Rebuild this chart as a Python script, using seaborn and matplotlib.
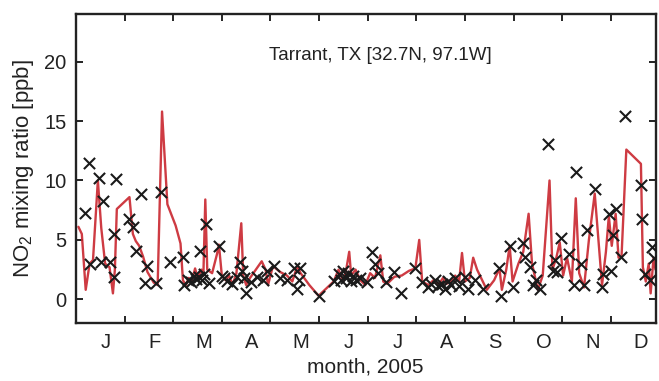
import numpy as np
import pandas as pd
import matplotlib
matplotlib.use("Agg")
import matplotlib.pyplot as plt
import seaborn as sns

# observed NO2 (black crosses): month position (0 = 1 Jan, 1 unit = 1 month), ppb
obs_month = [0.18, 0.26, 0.28, 0.47, 0.52, 0.55, 0.69, 0.78, 0.79, 0.83,
             1.10, 1.17, 1.23, 1.34, 1.41, 1.47, 1.65, 1.75, 1.93,
             2.20, 2.22, 2.30, 2.36, 2.42, 2.46, 2.53, 2.55, 2.60, 2.63, 2.68, 2.73, 2.94,
             3.00, 3.05, 3.10, 3.21, 3.31, 3.38, 3.42, 3.46, 3.50, 3.59, 3.72, 3.85, 3.93,
             4.07, 4.20, 4.34, 4.48, 4.55, 4.58, 4.61, 4.99,
             5.30, 5.40, 5.45, 5.50, 5.55, 5.60, 5.65, 5.70, 5.75, 5.85, 5.99,
             6.08, 6.16, 6.22, 6.37, 6.54, 6.69, 6.98,
             7.12, 7.25, 7.30, 7.38, 7.45, 7.52, 7.58, 7.65, 7.72, 7.80, 7.88,
             8.00, 8.06, 8.20, 8.37, 8.71, 8.75, 8.92, 8.99,
             9.19, 9.23, 9.33, 9.40, 9.47, 9.54, 9.71, 9.81, 9.86, 9.90, 9.97,
             10.14, 10.24, 10.28, 10.38, 10.45, 10.51, 10.67, 10.82, 10.84, 10.96,
             11.01, 11.05, 11.10, 11.20, 11.30, 11.62, 11.64, 11.71, 11.81, 11.85, 11.88]
obs_no2 = [7.3, 11.45, 3.0, 10.25, 3.1, 8.3, 3.1, 5.5, 1.9, 10.1,
           6.8, 6.1, 4.1, 8.9, 1.4, 2.8, 1.4, 9.0, 3.1,
           3.55, 1.2, 1.6, 1.45, 2.0, 1.75, 1.9, 4.1, 1.6, 2.15, 6.3, 1.4, 4.5,
           2.0, 1.8, 1.5, 1.3, 1.9, 3.1, 2.4, 1.8, 0.5, 1.45, 1.9, 1.6, 2.4,
           2.8, 1.8, 1.6, 2.6, 0.9, 1.6, 2.6, 0.3,
           1.5, 2.1, 1.6, 2.4, 1.8, 2.2, 1.5, 2.0, 1.6, 1.8, 1.45,
           4.0, 3.0, 2.2, 1.45, 2.3, 0.5, 2.6,
           1.45, 1.0, 1.3, 1.6, 1.1, 1.3, 0.9, 1.5, 1.2, 1.8, 1.1,
           1.9, 0.9, 1.6, 0.9, 2.6, 0.3, 4.5, 1.0,
           4.7, 3.55, 2.7, 1.2, 1.6, 0.9, 13.1, 2.4, 3.3, 2.3, 5.2,
           3.8, 1.2, 10.7, 3.0, 1.2, 5.8, 9.3, 1.0, 2.15, 7.2,
           2.4, 5.4, 7.6, 3.55, 15.4, 9.6, 6.8, 2.15, 1.6, 4.4, 3.5]

# modelled NO2 (red line)
mod_month = [0.05, 0.12, 0.20, 0.28, 0.35, 0.45, 0.52, 0.60, 0.69, 0.76, 0.80, 0.84,
             1.10, 1.17, 1.23, 1.30, 1.38, 1.47, 1.60, 1.68, 1.77, 1.88,
             2.05, 2.15, 2.20, 2.26, 2.32, 2.38, 2.45, 2.50, 2.58, 2.62, 2.66, 2.70,
             2.80, 2.90, 2.94, 3.00, 3.08, 3.15, 3.22, 3.30, 3.40, 3.44, 3.50, 3.58,
             3.70, 3.82, 3.90, 3.95, 4.05, 4.20, 4.34, 4.45, 4.55, 4.62, 4.80, 4.99,
             5.30, 5.40, 5.50, 5.55, 5.62, 5.66, 5.75, 5.85, 5.95, 6.05, 6.15, 6.26,
             6.32, 6.40, 6.55, 6.70, 6.85, 6.98, 7.06, 7.12, 7.25, 7.35, 7.45, 7.55,
             7.62, 7.72, 7.80, 7.88, 7.94, 8.00, 8.10, 8.17, 8.25, 8.45, 8.60, 8.71,
             8.76, 8.85, 8.92, 8.98, 9.10, 9.20, 9.31, 9.38, 9.50, 9.60, 9.74, 9.80,
             9.88, 9.95, 10.02, 10.10, 10.20, 10.28, 10.35, 10.45, 10.55, 10.67,
             10.82, 10.90, 10.96, 11.02, 11.10, 11.16, 11.22, 11.32, 11.62, 11.66,
             11.72, 11.78, 11.82, 11.88, 11.92]
mod_no2 = [6.1, 5.5, 0.8, 3.0, 3.3, 10.0, 6.0, 3.0, 2.7, 0.5, 2.5, 7.6,
           8.6, 5.5, 4.9, 4.5, 3.6, 2.3, 1.4, 1.2, 15.8, 8.0,
           6.2, 4.7, 1.6, 1.2, 1.8, 1.5, 2.6, 1.8, 2.5, 2.0, 8.4, 2.5,
           2.2, 3.8, 4.6, 2.0, 1.6, 2.0, 1.2, 2.2, 6.4, 2.0, 1.2, 1.8,
           2.5, 3.2, 2.5, 1.2, 2.8, 2.3, 2.0, 1.5, 2.8, 2.2, 1.2, 0.3,
           1.5, 2.5, 1.5, 2.3, 4.0, 2.0, 2.5, 1.6, 1.2, 2.2, 1.8, 3.7,
           1.5, 1.3, 1.9, 2.0, 2.4, 2.6, 5.0, 1.5, 1.2, 1.6, 1.2, 1.8,
           1.3, 1.5, 2.0, 1.5, 3.9, 1.5, 1.8, 3.5, 2.5, 0.8, 1.6, 2.6,
           0.8, 2.5, 4.5, 1.5, 3.0, 4.0, 7.2, 3.0, 0.8, 2.0, 10.0, 2.5,
           3.5, 4.8, 2.0, 3.5, 1.5, 8.5, 2.2, 1.0, 5.0, 8.9,
           1.2, 4.0, 7.0, 4.5, 7.2, 3.5, 3.5, 12.6, 11.4, 2.7,
           1.5, 3.0, 0.5, 3.5, 2.5]

month_labels = ["J", "F", "M", "A", "M", "J", "J", "A", "S", "O", "N", "D"]

sns.set_style("ticks")
plt.rcParams["font.family"] = ["Liberation Sans", "DejaVu Sans"]
plt.rcParams["mathtext.fontset"] = "custom"
plt.rcParams["mathtext.rm"] = "Liberation Sans"
plt.rcParams["mathtext.it"] = "Liberation Sans:italic"

obs = pd.DataFrame({"month": obs_month, "no2": obs_no2})
mod = pd.DataFrame({"month": mod_month, "no2": mod_no2})

fig = plt.figure(figsize=(6.59, 3.81), dpi=100)
ax = fig.add_axes([0.1153, 0.152, 0.8794, 0.811])

sns.lineplot(data=mod, x="month", y="no2", ax=ax, color="#c9262e", lw=1.7,
             sort=False, estimator=None, alpha=0.9)
sns.scatterplot(data=obs, x="month", y="no2", ax=ax, marker="x", color="#1a1a1a",
                s=65, linewidth=1.5, zorder=3)

ax.set_xlim(0, 11.92)
ax.set_ylim(-2, 24)
ax.set_yticks([0, 5, 10, 15, 20])
ax.set_xticks(np.arange(1, 12))
ax.set_xticks(np.arange(12) + 0.62, minor=True)
ax.set_xticklabels([])
ax.set_xticklabels(month_labels, minor=True)
ax.tick_params(axis="x", which="major", direction="in", top=True, length=5, width=1.4)
ax.tick_params(axis="x", which="minor", length=0, labelsize=14.5, pad=7, colors="#222222")
ax.tick_params(axis="y", direction="in", right=True, length=5, width=1.4,
               labelsize=14.5, pad=7, colors="#222222")
for s in ax.spines.values():
    s.set_linewidth(1.7)
    s.set_color("#222222")

ax.set_xlabel("month, 2005", fontsize=15, color="#222222", labelpad=4)
ax.set_ylabel("NO$_2$ mixing ratio [ppb]", fontsize=16, color="#222222", labelpad=6)
ax.text(0.526, 0.867, "Tarrant, TX [32.7N, 97.1W]", transform=ax.transAxes,
        ha="center", va="center", fontsize=13.5, color="#222222")

fig.savefig("out.png", dpi=100)
